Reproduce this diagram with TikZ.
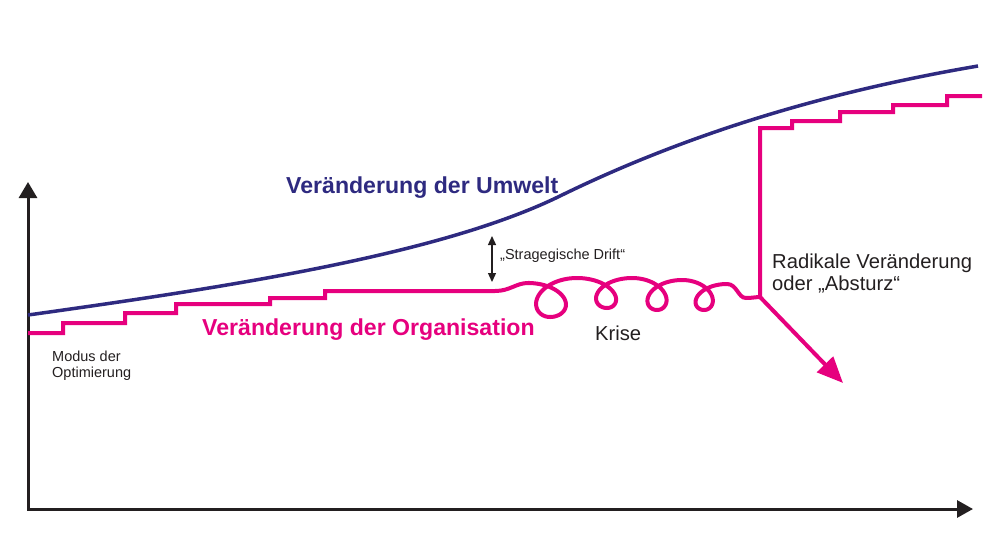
\documentclass[tikz,border=0pt]{standalone}
\usepackage{fontspec}
\setmainfont{Liberation Sans}
\usetikzlibrary{arrows.meta}
\definecolor{envblue}{HTML}{2E2A80}
\definecolor{orgpink}{HTML}{E6007E}
\definecolor{axisgray}{HTML}{231F20}
\begin{document}
\begin{tikzpicture}[x=1pt,y=-1pt,
  axisline/.style={draw=axisgray, line width=3pt},
  envline/.style={draw=envblue, line width=3.5pt},
  orgline/.style={draw=orgpink, line width=4pt},
  biglabel/.style={font=\bfseries\fontsize{23.1}{28}\selectfont, inner sep=0pt, anchor=base west},
  midlabel/.style={text=axisgray, font=\fontsize{20.2}{24}\selectfont, inner sep=0pt, anchor=base west},
  smalllabel/.style={text=axisgray, font=\fontsize{14.5}{17}\selectfont, inner sep=0pt, anchor=base west}]
\useasboundingbox (0,0) rectangle (1000,544);
% axes
\coordinate (origin) at (28,509);
\coordinate (ytip) at (28,182);
\coordinate (xtip) at (973,509);
\draw[axisline, {Triangle[length=16pt,width=18pt]}-{Triangle[length=16pt,width=17pt]}] (ytip) -- (origin) -- (xtip);
% environment curve
\coordinate (envstart) at (28,315);
\coordinate (envmid) at (560,196);
\coordinate (envend) at (978,66);
\draw[envline] (envstart) .. controls (228,287) and (440,254.8) .. (envmid)
  .. controls (680,137.2) and (818,93.2) .. (envend);
% organisation curve
\coordinate (junc) at (760,297);
\coordinate (crash) at (843,383);
\draw[orgline] (28,333) -| (63,323) -| (125,313) -| (176,304) -| (270,298) -| (325,291) -- (495,291)
  .. controls (510,291) and (516,283) .. (528,283)
  -- plot[domain=-3.14159:0, samples=50, variable=\t] ({550+22/pi*\t-26*sin(\t r)}, {317-17*(1-cos(\t r))})
  -- plot[domain=0:3.14159, samples=50, variable=\t] ({550+27/pi*\t-26*sin(\t r)}, {317-19.5*(1-cos(\t r))})
  -- plot[domain=-3.14159:0, samples=50, variable=\t] ({607+30/pi*\t-22*sin(\t r)}, {308-15*(1-cos(\t r))})
  -- plot[domain=0:3.14159, samples=50, variable=\t] ({607+25/pi*\t-22*sin(\t r)}, {308-15*(1-cos(\t r))})
  -- plot[domain=-3.14159:0, samples=50, variable=\t] ({657+25/pi*\t-20.5*sin(\t r)}, {310-16*(1-cos(\t r))})
  -- plot[domain=0:3.14159, samples=50, variable=\t] ({657+25/pi*\t-20.5*sin(\t r)}, {310-15*(1-cos(\t r))})
  -- plot[domain=-3.14159:0, samples=50, variable=\t] ({704+22/pi*\t-18.5*sin(\t r)}, {310-15*(1-cos(\t r))})
  -- plot[domain=0:3.14159, samples=50, variable=\t] ({704+23/pi*\t-18.5*sin(\t r)}, {310-13*(1-cos(\t r))})
  .. controls (737,284) and (738,298) .. (746,298)
  .. controls (752,298) and (756,297) .. (junc)
  -- (760,128) -| (792,121) -| (840,112) -| (893,105) -| (947,96) -- (982,96);
\draw[orgline, -{Triangle[length=26pt,width=22pt]}] (junc) -- (crash);
% drift arrow
\coordinate (drifttop) at (492,236);
\coordinate (driftbot) at (492,282);
\draw[draw=axisgray, line width=1.3pt, {Triangle[length=9pt,width=8pt]}-{Triangle[length=9pt,width=8pt]}] (drifttop) -- (driftbot);
% labels
\node[biglabel, text=envblue] (envlabel) at (286,193) {Veränderung der Umwelt};
\node[biglabel, text=orgpink] (orglabel) at (202,335) {Veränderung der Organisation};
\node[midlabel] (krise) at (595,340) {Krise};
\node[midlabel] (radikal1) at (772,268) {Radikale Veränderung};
\node[midlabel] (radikal2) at (772,290) {oder „Absturz“};
\node[smalllabel] (drift) at (500,259) {„Stragegische Drift“};
\node[smalllabel] (modus1) at (52,361) {Modus der};
\node[smalllabel] (modus2) at (52,377) {Optimierung};
\end{tikzpicture}
\end{document}
